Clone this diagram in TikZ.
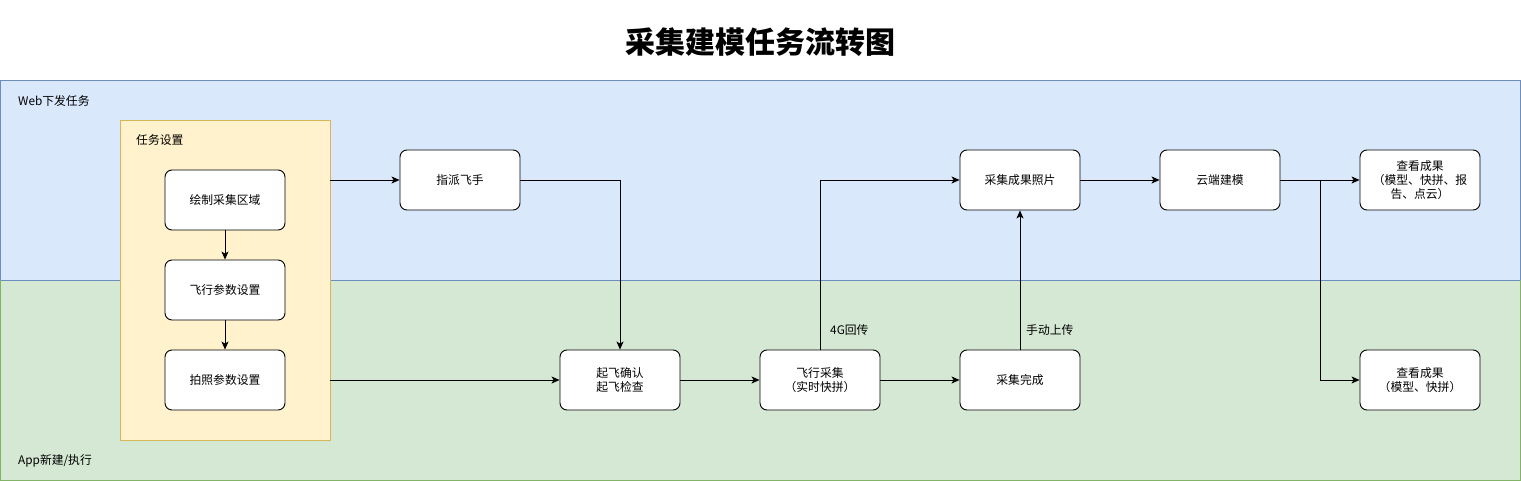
\documentclass[tikz,border=0pt]{standalone}
\usepackage{fontspec}
\setmainfont{Noto Sans CJK SC}
\usetikzlibrary{arrows.meta,positioning}
\definecolor{webfill}{HTML}{DAE8FC}
\definecolor{webline}{HTML}{6C8EBF}
\definecolor{appfill}{HTML}{D5E8D4}
\definecolor{appline}{HTML}{82B366}
\definecolor{setfill}{HTML}{FFF2CC}
\definecolor{setline}{HTML}{D6B656}
\tikzset{
  proc/.style={draw=black, fill=white, rounded corners=7pt, line width=0.9pt,
    minimum width=120pt, minimum height=60pt, align=center,
    font=\fontsize{11.8}{14}\selectfont, inner sep=2pt},
  conn/.style={line width=0.8pt, -{Stealth[length=8pt,width=7pt,inset=2pt]}},
  plain/.style={line width=0.8pt},
  lbl/.style={font=\fontsize{11.8}{14}\selectfont, anchor=west, inner sep=0pt}
}
\begin{document}
\begin{tikzpicture}[x=1pt,y=-1pt]
\useasboundingbox (0,0) rectangle (1521,481);
\fill[white] (0,0) rectangle (1521,481);
% title
\node[font=\fontsize{30}{34}\selectfont\bfseries] (title) at (760,42) {采集建模任务流转图};
% lanes
\draw[fill=webfill, draw=webline, line width=0.8pt] (0.5,80.5) rectangle (1520,280);
\draw[fill=appfill, draw=appline, line width=0.8pt] (0.5,280) rectangle (1520,480.5);
\draw[webline, line width=0.8pt] (0.5,280) -- (1520,280);
\node[lbl] (weblbl) at (18,101) {Web下发任务};
\node[lbl] (applbl) at (18,461) {App新建/执行};
% settings container
\node[draw=setline, fill=setfill, line width=0.8pt, minimum width=210pt, minimum height=320pt, inner sep=0pt] (set) at (225,280) {};
\node[lbl] (setlbl) at (136,140) {任务设置};
% nodes
\node[proc] (draw) at (225,200) {绘制采集区域};
\node[proc] (fly) at (225,290) {飞行参数设置};
\node[proc] (photo) at (225,380) {拍照参数设置};
\node[proc] (pilot) at (460,180) {指派飞手};
\node[proc] (takeoff) at (620,380) {起飞确认\\起飞检查};
\node[proc] (collect) at (820,380) {飞行采集\\（实时快拼）};
\node[proc] (done) at (1020,380) {采集完成};
\node[proc] (photos) at (1020,180) {采集成果照片};
\node[proc] (cloud) at (1220,180) {云端建模};
\node[proc] (view1) at (1420,180) {查看成果\\（模型、快拼、报\\告、点云）};
\node[proc] (view2) at (1420,380) {查看成果\\（模型、快拼）};
\coordinate (split) at (1320,180);
% connectors
\draw[conn] (draw) -- (fly);
\draw[conn] (fly) -- (photo);
\draw[conn] (set.east |- pilot.west) -- (pilot.west);
\draw[conn] (set.east |- takeoff.west) -- (takeoff.west);
\draw[conn] (pilot.east) -| (takeoff.north);
\draw[conn] (takeoff) -- (collect);
\draw[conn] (collect) -- (done);
\draw[conn] (collect.north) |- (photos.west);
\draw[conn] (done) -- (photos);
\draw[conn] (photos) -- (cloud);
\draw[plain] (cloud.east) -- (split);
\draw[conn] (split) -- (view1.west);
\draw[conn] (split) |- (view2.west);
% edge labels
\node[lbl] (l4g) at (830,330) {4G回传};
\node[lbl] (lman) at (1026,330) {手动上传};
\end{tikzpicture}
\end{document}
